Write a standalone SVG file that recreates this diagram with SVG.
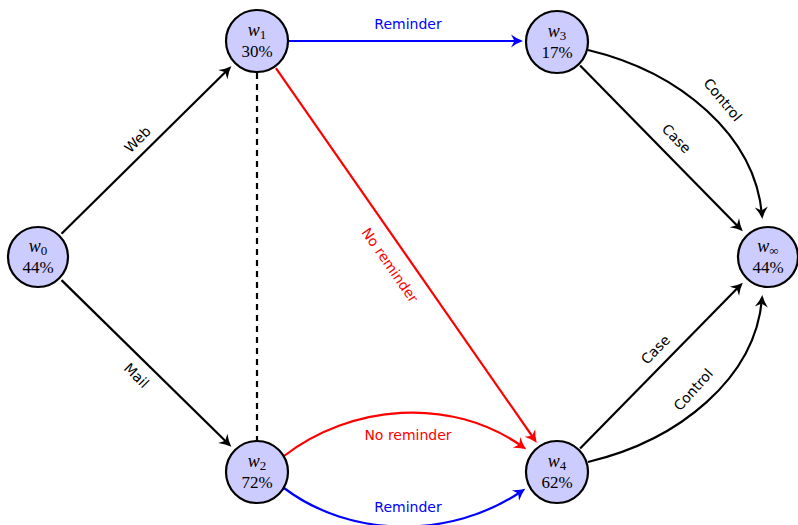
<svg xmlns="http://www.w3.org/2000/svg" width="798" height="525" viewBox="0 0 798 525">
  <style>
    .node circle { fill: #ccccff; stroke: #000; stroke-width: 2.2; }
    .node text { font-family: "Liberation Serif", "DejaVu Serif", serif; font-size: 17px; text-anchor: middle; fill: #000; }
    .node .v { font-style: italic; font-size: 18px; }
    .node .s { font-size: 13px; }
    .edge { fill: none; stroke-width: 2.2; }
    .k { stroke: #000; }
    .b { stroke: #0000ff; }
    .r { stroke: #ff0000; }
    .lbl { font-family: "DejaVu Sans", "Liberation Sans", sans-serif; font-size: 14px; text-anchor: middle; }
  </style>
  <defs>
    <marker id="ak" markerUnits="userSpaceOnUse" viewBox="-14 -8 20 16" refX="-4" refY="0" markerWidth="20" markerHeight="16" orient="auto">
      <path d="M0,0 Q-6,-2 -12,-6.5 L-8.5,0 L-12,6.5 Q-6,2 0,0 Z" fill="#000"/>
    </marker>
    <marker id="ab" markerUnits="userSpaceOnUse" viewBox="-14 -8 20 16" refX="-4" refY="0" markerWidth="20" markerHeight="16" orient="auto">
      <path d="M0,0 Q-6,-2 -12,-6.5 L-8.5,0 L-12,6.5 Q-6,2 0,0 Z" fill="#0000ff"/>
    </marker>
    <marker id="ar" markerUnits="userSpaceOnUse" viewBox="-14 -8 20 16" refX="-4" refY="0" markerWidth="20" markerHeight="16" orient="auto">
      <path d="M0,0 Q-6,-2 -12,-6.5 L-8.5,0 L-12,6.5 Q-6,2 0,0 Z" fill="#ff0000"/>
    </marker>
  </defs>

  <g id="connectors">
    <!-- w0 to w1 / w2 -->
    <path class="edge k" d="M61.5,233.8 L228.5,69" marker-end="url(#ak)"/>
    <path class="edge k" d="M61.5,280.1 L228.5,444" marker-end="url(#ak)"/>
    <!-- w1 to w2 dashed -->
    <path class="edge k" d="M257,73 L257,441" stroke-dasharray="6,5"/>
    <!-- w1 to w3 -->
    <path class="edge b" d="M289,41 L519,41" marker-end="url(#ab)"/>
    <!-- w1 to w4 -->
    <path class="edge r" d="M275.9,68.1 L534.5,439.5" marker-end="url(#ar)"/>
    <!-- w2 to w4 -->
    <path class="edge r" d="M284,456 C350,405 450,395 523,447" marker-end="url(#ar)"/>
    <path class="edge b" d="M284,488 C350,538 450,540 522,491" marker-end="url(#ab)"/>
    <!-- w3 to winf -->
    <path class="edge k" d="M580.1,65.6 L740,228.5" marker-end="url(#ak)"/>
    <path class="edge k" d="M588,50 C680,72 755,135 762,215" marker-end="url(#ak)"/>
    <!-- w4 to winf -->
    <path class="edge k" d="M580.1,448.4 L740,285.5" marker-end="url(#ak)"/>
    <path class="edge k" d="M588,462 C680,440 755,378 762,299" marker-end="url(#ak)"/>

    <!-- edge labels -->
    <text class="lbl" transform="translate(141,143) rotate(-45)">Web</text>
    <text class="lbl" transform="translate(133,379) rotate(45)">Mail</text>
    <text class="lbl" fill="#0000ff" x="408" y="29">Reminder</text>
    <text class="lbl" fill="#ff0000" transform="translate(386,268) rotate(55.2)">No reminder</text>
    <text class="lbl" fill="#ff0000" x="408" y="440">No reminder</text>
    <text class="lbl" fill="#0000ff" x="408" y="512">Reminder</text>
    <text class="lbl" transform="translate(673,142) rotate(45.5)">Case</text>
    <text class="lbl" transform="translate(719,103) rotate(50)">Control</text>
    <text class="lbl" transform="translate(659,353) rotate(-45.5)">Case</text>
    <text class="lbl" transform="translate(697,393) rotate(-48)">Control</text>
  </g>

  <g id="w0" class="node">
    <circle cx="38" cy="257" r="30"/>
    <text x="38" y="252"><tspan class="v">w</tspan><tspan class="s" dy="3">0</tspan></text>
    <text x="38" y="273">44%</text>
  </g>
  <g id="w1" class="node">
    <circle cx="257" cy="41" r="31"/>
    <text x="257" y="36"><tspan class="v">w</tspan><tspan class="s" dy="3">1</tspan></text>
    <text x="257" y="57">30%</text>
  </g>
  <g id="w3" class="node">
    <circle cx="557" cy="42" r="31"/>
    <text x="557" y="37"><tspan class="v">w</tspan><tspan class="s" dy="3">3</tspan></text>
    <text x="557" y="58">17%</text>
  </g>
  <g id="winf" class="node">
    <circle cx="768" cy="257" r="30"/>
    <text x="768" y="252"><tspan class="v">w</tspan><tspan class="s" dy="3">∞</tspan></text>
    <text x="768" y="273">44%</text>
  </g>
  <g id="w2" class="node">
    <circle cx="257" cy="472" r="31"/>
    <text x="257" y="467"><tspan class="v">w</tspan><tspan class="s" dy="3">2</tspan></text>
    <text x="257" y="488">72%</text>
  </g>
  <g id="w4" class="node">
    <circle cx="557" cy="472" r="31"/>
    <text x="557" y="467"><tspan class="v">w</tspan><tspan class="s" dy="3">4</tspan></text>
    <text x="557" y="488">62%</text>
  </g>
</svg>
